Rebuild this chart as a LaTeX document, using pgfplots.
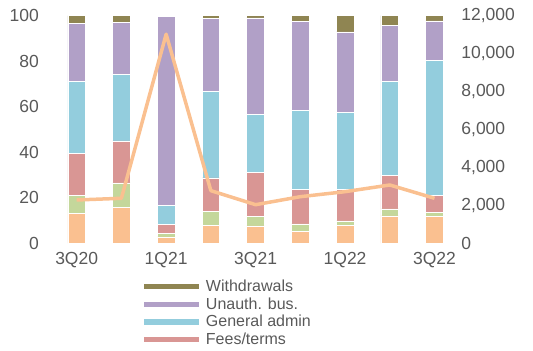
\documentclass[border=0pt]{standalone}
\usepackage{pgfplots}
\pgfplotsset{compat=1.18}
\usepackage{fontspec}
\setmainfont{Liberation Sans}

\definecolor{cOlive}{HTML}{8F8552}
\definecolor{cPurple}{HTML}{B1A0C7}
\definecolor{cCyan}{HTML}{93CDDD}
\definecolor{cRed}{HTML}{D99694}
\definecolor{cGreen}{HTML}{C4D79B}
\definecolor{cOrange}{HTML}{FAC090}
\definecolor{cLine}{HTML}{FAC090}
\definecolor{cText}{HTML}{595959}

\pgfplotsset{
  base/.style={
    scale only axis, width=402.6bp, height=227.6bp,
    at={(54.3bp,-243.3bp)}, anchor=south west,
    xmin=-0.5, xmax=8.5, ymin=0,
    axis line style={draw=none},
    major tick length=0pt,
    tick style={draw=none},
    /pgf/number format/assume math mode=true,
    ticklabel style={font=\fontsize{17.5bp}{20bp}\selectfont, text=cText},
  },
}

\begin{document}
\begin{tikzpicture}
\path[use as bounding box] (0,0) rectangle (533bp,-351bp);

\begin{axis}[base,
  ybar stacked, bar width=17.7bp,
  ymax=100, ytick={0,20,...,100},
  axis y line*=left, axis x line*=bottom,
  xtick={0,2,4,6,8},
  xticklabels={3Q20,1Q21,3Q21,1Q22,3Q22},
  xticklabel style={yshift=-5bp},
  yticklabel style={anchor=east, xshift=-12bp},
  reverse legend,
  legend style={draw=none, fill=none, at={(0.221,-0.155)}, anchor=north west,
    font=\fontsize{16bp}{18bp}\selectfont, text=cText,
    row sep=2.6bp, column sep=5bp, inner sep=0pt,
    nodes={inner sep=1bp}},
  legend cell align=left,
  legend image code/.code={\fill[#1] (0bp,-3.2bp) rectangle (56bp,3.2bp);},
  every axis plot/.append style={draw=white, line width=0.5bp},
]
\addplot[fill=cOrange, forget plot] coordinates {(0,13.2) (1,15.8) (2,2.8) (3,7.9) (4,7.7) (5,5.3) (6,7.9) (7,12.1) (8,11.7)};
\addplot[fill=cGreen, forget plot] coordinates {(0,8) (1,10.8) (2,1.7) (3,6) (4,4) (5,3.2) (6,2) (7,3) (8,1.9)};
\addplot[fill=cRed] coordinates {(0,18.2) (1,18.4) (2,3.7) (3,14.9) (4,19.6) (5,15.1) (6,13.7) (7,14.8) (8,7.3)};
\addlegendentry{Fees/terms}
\addplot[fill=cCyan] coordinates {(0,31.8) (1,29.1) (2,8.6) (3,38.1) (4,25.2) (5,34.9) (6,34) (7,41.3) (8,59.4)};
\addlegendentry{General admin}
\addplot[fill=cPurple] coordinates {(0,25.3) (1,23) (2,82.8) (3,32) (4,42.5) (5,39.1) (6,35.3) (7,24.6) (8,17.4)};
\addlegendentry{Unauth. bus.}
\addplot[fill=cOlive] coordinates {(0,3.5) (1,2.9) (2,0.4) (3,1.1) (4,1) (5,2.4) (6,7.1) (7,4.2) (8,2.3)};
\addlegendentry{Withdrawals}
\end{axis}

\begin{axis}[base,
  ymax=12000, ytick={0,2000,...,12000},
  axis y line*=right, axis x line=none,
  scaled y ticks=false,
  yticklabel style={anchor=west, xshift=1bp, /pgf/number format/1000 sep={,}},
]
\addplot[color=cLine, line width=3.5bp, line join=round, mark=none]
  coordinates {(0,2284) (1,2373) (2,11024) (3,2775) (4,2036) (5,2458) (6,2722) (7,3075) (8,2373)};
\end{axis}
\end{tikzpicture}
\end{document}
